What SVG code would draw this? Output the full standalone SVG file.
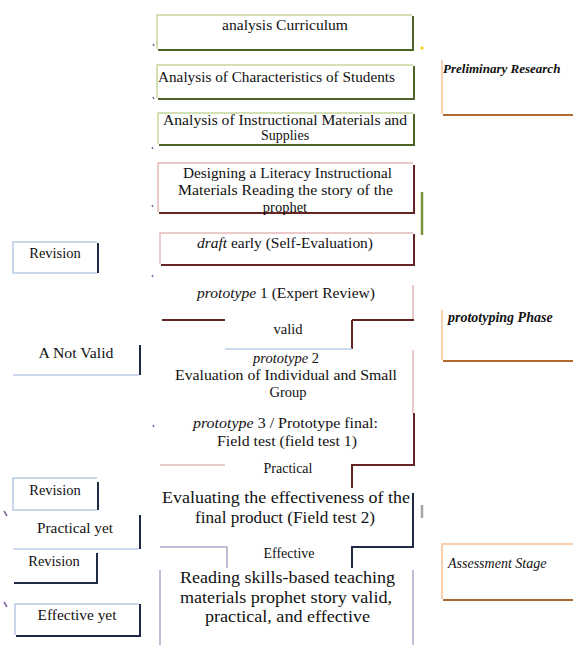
<svg xmlns="http://www.w3.org/2000/svg" width="573" height="645" viewBox="0 0 573 645">
<style>
text{font-family:'Liberation Serif','Times New Roman','DejaVu Serif',Times,serif;font-size:14.5px;fill:#111}
.c{text-anchor:middle}
.big{font-size:16px}
.lab{font-style:italic;font-weight:bold;font-size:15px}
.g1{stroke:#c3d69b;stroke-width:1.5;fill:none}
.g2{stroke:#4f6228;stroke-width:2;fill:none}
.p1{stroke:#e6b9b8;stroke-width:1.5;fill:none}
.p2{stroke:#632423;stroke-width:2;fill:none}
.b1{stroke:#b8cce4;stroke-width:1.5;fill:none}
.b2{stroke:#1f2a44;stroke-width:2;fill:none}
.v1{stroke:#b3a2c7;stroke-width:1.5;fill:none}
.o1{stroke:#fac090;stroke-width:1.5;fill:none}
.o2{stroke:#b06a30;stroke-width:2;fill:none}
.tick{stroke:#8064a2;stroke-width:1.5}
</style>
<rect width="573" height="645" fill="#fff"/>
<g font-family="'Liberation Serif', 'DejaVu Serif', serif">
<g id="n-curriculum">
<path class="g1" d="M157,49 V15 H412"/>
<path class="g2" d="M413,16 V50 H158"/>
<text class="c" x="285" y="30" textLength="126" lengthAdjust="spacingAndGlyphs">analysis Curriculum</text>
</g>
<g id="n-students">
<path class="g1" d="M157,98 V65 H413"/>
<path class="g2" d="M414,66 V99 H158"/>
<text x="158" y="82" textLength="237" lengthAdjust="spacingAndGlyphs">Analysis of Characteristics of Students</text>
</g>
<g id="n-materials">
<path class="g1" d="M158,144 V113 H413"/>
<path class="g2" d="M414,114 V145 H159"/>
<text x="163" y="125" style="font-size:14px" textLength="244" lengthAdjust="spacingAndGlyphs">Analysis of Instructional Materials and</text>
<text class="c" x="285" y="140" style="font-size:14px">Supplies</text>
</g>
<g id="n-design">
<path class="p1" d="M158,212 V163 H413"/>
<path class="p2" d="M414,165 V213 H159"/>
<text x="183" y="178" textLength="209" lengthAdjust="spacingAndGlyphs">Designing a Literacy Instructional</text>
<text x="178" y="195" textLength="215" lengthAdjust="spacingAndGlyphs">Materials Reading the story of the</text>
<text class="c" x="285" y="212">prophet</text>
</g>
<g id="n-draft">
<path class="p1" d="M160,264 V233 H413"/>
<path class="p2" d="M414,234 V265 H161"/>
<text x="197" y="248" textLength="176" lengthAdjust="spacingAndGlyphs"><tspan font-style="italic">draft</tspan> early (Self-Evaluation)</text>
</g>
<g id="n-proto1">
<text x="197" y="298" textLength="178" lengthAdjust="spacingAndGlyphs"><tspan font-style="italic">prototype</tspan> 1 (Expert Review)</text>
</g>
<g id="n-valid">
<text class="c" x="288" y="334">valid</text>
</g>
<g id="n-proto2">
<text class="c" x="286" y="363"><tspan font-style="italic">prototype</tspan> 2</text>
<text x="175" y="380" textLength="222" lengthAdjust="spacingAndGlyphs">Evaluation of Individual and Small</text>
<text class="c" x="288" y="397">Group</text>
</g>
<g id="n-proto3">
<text x="193" y="428" textLength="185" lengthAdjust="spacingAndGlyphs"><tspan font-style="italic">prototype</tspan> 3 / Prototype final:</text>
<text x="217" y="446" textLength="140" lengthAdjust="spacingAndGlyphs">Field test (field test 1)</text>
</g>
<g id="n-practical">
<text class="c" x="288" y="473" style="font-size:14px">Practical</text>
</g>
<g id="n-field2">
<text class="big" x="162" y="503" textLength="248" lengthAdjust="spacingAndGlyphs">Evaluating the effectiveness of the</text>
<text class="big" x="195" y="523" textLength="180" lengthAdjust="spacingAndGlyphs">final product (Field test 2)</text>
</g>
<g id="n-effective">
<text class="c" x="289" y="558" style="font-size:14px">Effective</text>
</g>
<g id="n-final">
<path class="v1" d="M160,570 V645 M413,570 V645"/>
<text class="big" x="180" y="583" textLength="215" lengthAdjust="spacingAndGlyphs">Reading skills-based teaching</text>
<text class="big" x="180" y="603" textLength="212" lengthAdjust="spacingAndGlyphs">materials prophet story valid,</text>
<text class="big" x="205" y="622" textLength="165" lengthAdjust="spacingAndGlyphs">practical, and effective</text>
</g>

<g id="n-revision1">
<path class="b1" d="M97,242 H13 V273 H97"/>
<path class="b2" d="M98,243 V273"/>
<text class="c" x="55" y="258">Revision</text>
</g>
<g id="n-notvalid">
<text class="c" x="76" y="358" textLength="75" lengthAdjust="spacingAndGlyphs">A Not Valid</text>
</g>
<g id="n-revision2">
<path class="b1" d="M97,478 H13 V510 H97"/>
<path class="b2" d="M98,482 V510"/>
<text class="c" x="55" y="495">Revision</text>
</g>
<g id="n-practicalyet">
<text class="c" x="75" y="533" textLength="76" lengthAdjust="spacingAndGlyphs">Practical yet</text>
</g>
<g id="n-revision3">
<path class="b2" d="M97,553 V583 H14"/>
<text class="c" x="54" y="566">Revision</text>
</g>
<g id="n-effectiveyet">
<path class="b1" d="M15,635 V604 H139"/>
<path class="b2" d="M140,604 V636 H16"/>
<text class="c" x="77" y="620" textLength="79" lengthAdjust="spacingAndGlyphs">Effective yet</text>
</g>

<g id="n-preliminary">
<path class="o1" d="M442,60 V114"/>
<path class="o2" d="M443,115 H573"/>
<text class="lab" x="443" y="73" style="font-size:13px">Preliminary Research</text>
</g>
<g id="n-prototyping">
<path class="o1" d="M442,310 V360"/>
<path class="o2" d="M443,361 H573"/>
<text class="lab" x="448" y="322" style="font-size:14px">prototyping Phase</text>
</g>
<g id="n-assessment">
<path class="o1" d="M442,599 V544 H573"/>
<path class="o2" d="M443,600 H573"/>
<text class="lab" x="448" y="568" style="font-size:14px;font-weight:normal">Assessment Stage</text>
</g>
</g>
<g id="connectors">
<path d="M422,192 V235" stroke="#77933c" stroke-width="2.5" fill="none"/>
<path class="p1" d="M413,285 V319"/>
<path class="p2" d="M162,320 H225 M352,320 H414 M352,320 V349"/>
<path class="b1" d="M225,349 H352"/>
<path class="p1" d="M413,350 V413"/>
<path class="p2" d="M414,413 V465 H352 V488"/>
<path class="p1" d="M160,465 H225"/>
<path class="b2" d="M413,493 V547 H352 V568"/>
<path d="M422,505 V518" stroke="#a6a6a6" stroke-width="2.5"/>
<path class="v1" d="M160,547 H227 V568"/>
<path class="b2" d="M140,345 V375"/>
<path class="b1" d="M13,375 H139"/>
<path class="b2" d="M140,515 V549"/>
<path class="b1" d="M13,549 H139"/>
<circle cx="422" cy="48" r="1.5" fill="#ffc000"/>
<path class="tick" d="M4,511 L7,516 M4,602 L7,607"/>
<path class="tick" stroke-width="1" d="M153,44 l1,2 M153,97 l1,2 M152,147 l1,2 M152,205 l1,2 M152,275 l1,2 M153,425 l1,2"/>
</g>
</svg>
